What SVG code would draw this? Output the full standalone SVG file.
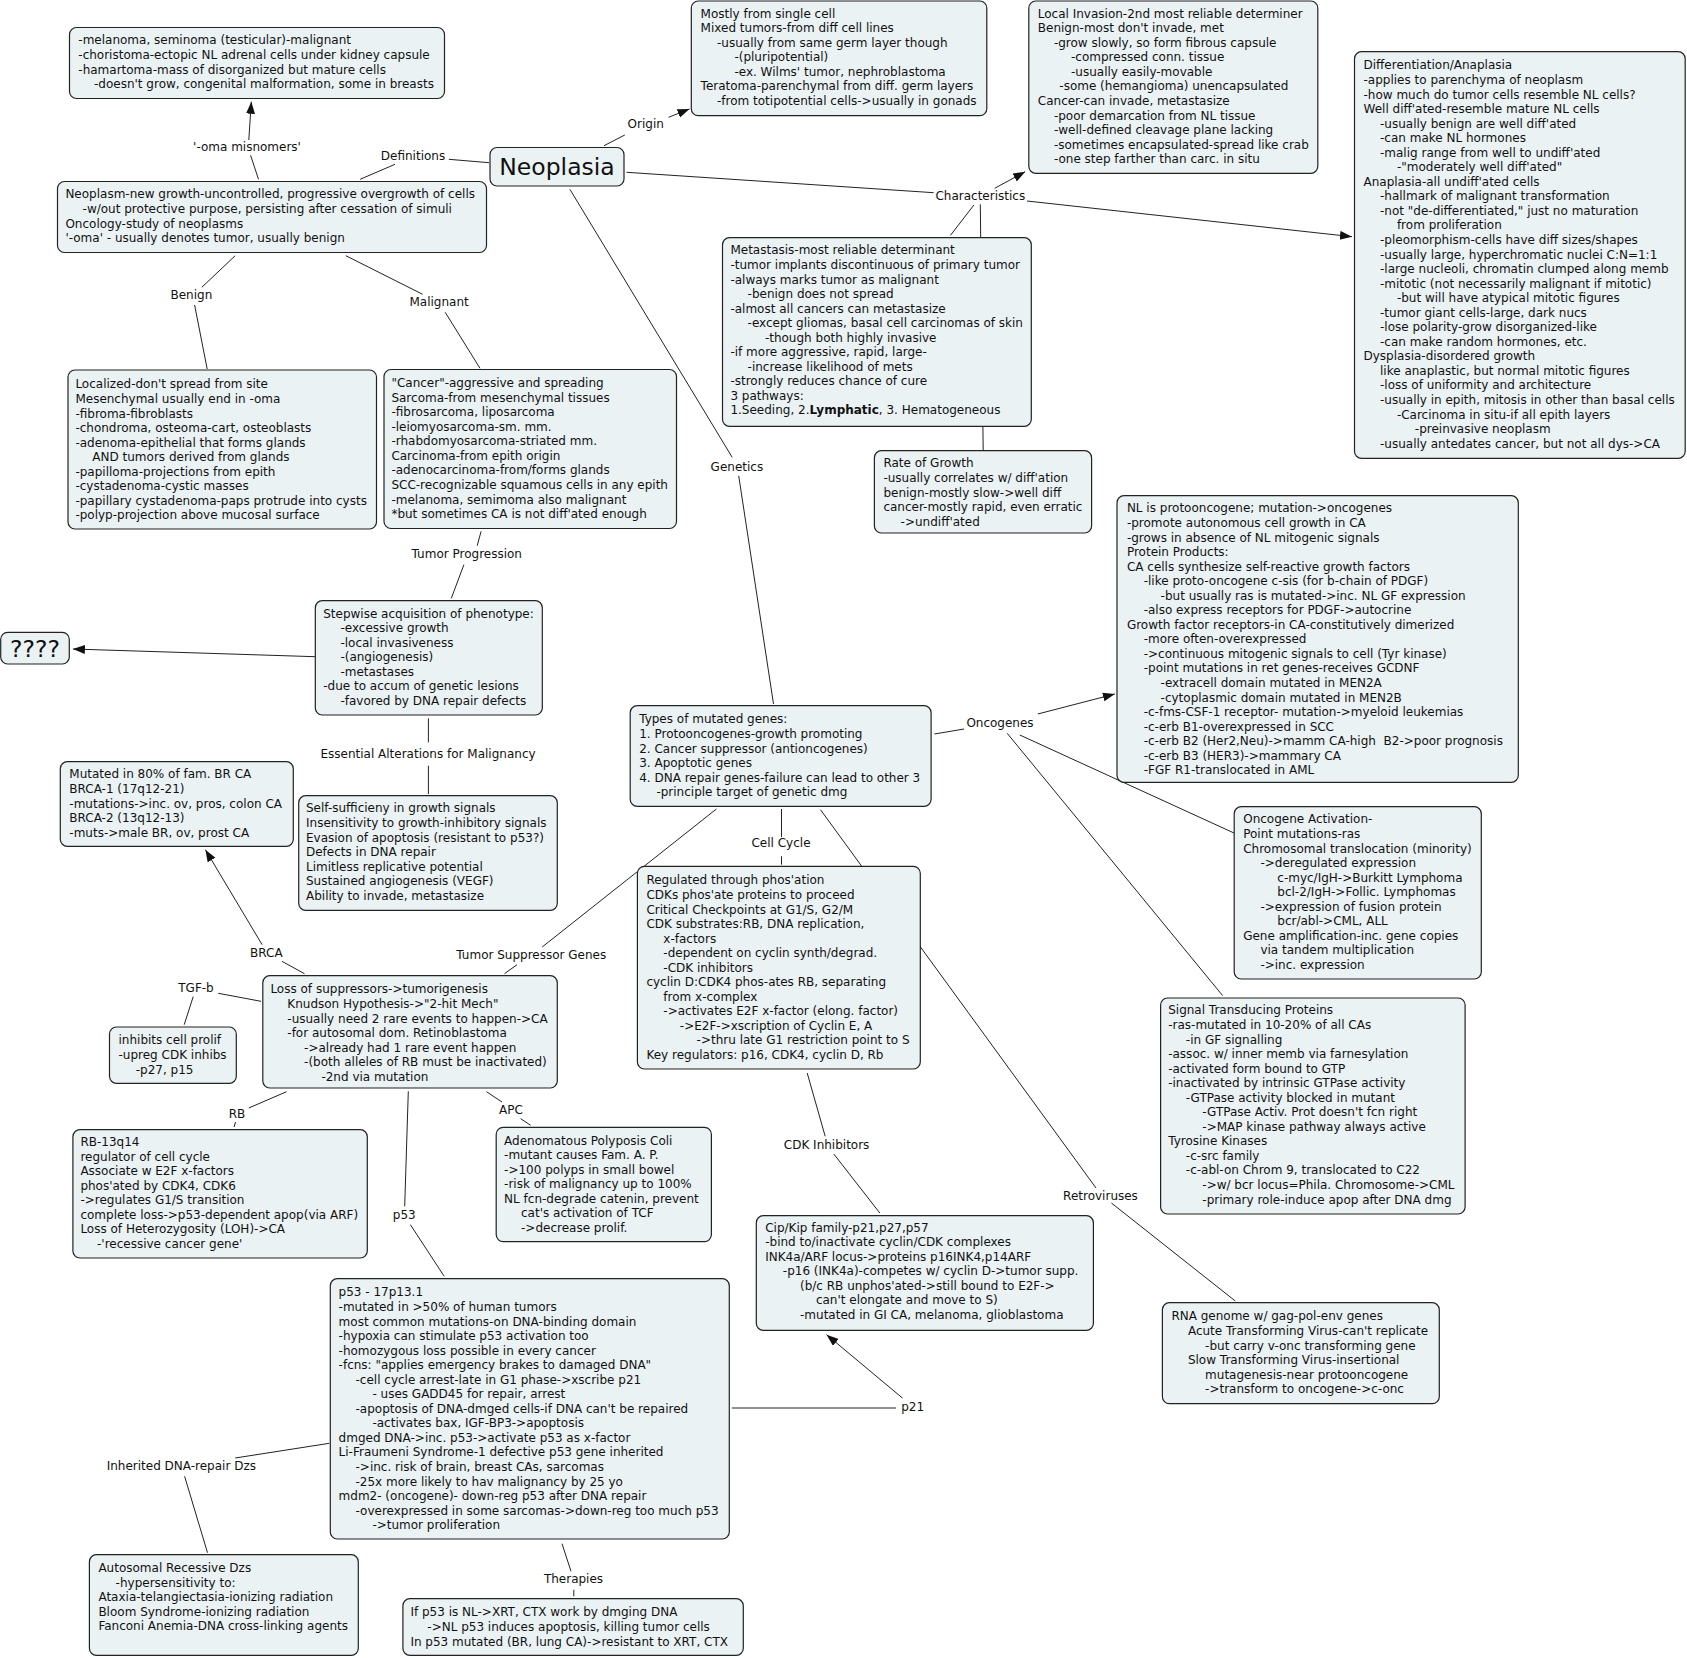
<svg xmlns="http://www.w3.org/2000/svg" width="1687" height="1658" viewBox="0 0 1687 1658">
<style>
rect.b{fill:#EBF2F4;stroke:#222;stroke-width:1.2}
text{font-family:"DejaVu Sans",Verdana,sans-serif;font-size:12px;fill:#111}
text.l{text-anchor:middle}
text.big{font-size:23.5px;text-anchor:middle}
#connectors line{stroke:#222;stroke-width:1}
</style>
<defs>
<marker id="ah" markerUnits="userSpaceOnUse" markerWidth="13" markerHeight="10" refX="12" refY="4.5" orient="auto">
<path d="M0,0 L12,4.5 L0,9 z" fill="#111"/>
</marker>
</defs>
<rect width="1687" height="1658" fill="#fff"/>
<g id="connectors">
<line x1="258.5" y1="179.3" x2="250.6" y2="155.3"/>
<line x1="248.8" y1="140" x2="251.3" y2="101.7" marker-end="url(#ah)"/>
<line x1="489" y1="162.7" x2="448.8" y2="159.3"/>
<line x1="395" y1="164.3" x2="360.1" y2="179.3"/>
<line x1="235.2" y1="255.7" x2="201.8" y2="287.3"/>
<line x1="194.6" y1="305" x2="207.2" y2="369"/>
<line x1="345.8" y1="255.7" x2="422.6" y2="294.3"/>
<line x1="445.2" y1="312.3" x2="480" y2="368.3"/>
<line x1="604" y1="145.7" x2="624.8" y2="135"/>
<line x1="668.6" y1="117.3" x2="689.5" y2="109" marker-end="url(#ah)"/>
<line x1="626.6" y1="172.3" x2="933.6" y2="192.7"/>
<line x1="994.7" y1="188.3" x2="1025.2" y2="171.7" marker-end="url(#ah)"/>
<line x1="1027" y1="201" x2="1352" y2="236.7" marker-end="url(#ah)"/>
<line x1="973.9" y1="205" x2="950.5" y2="235.3"/>
<line x1="980.3" y1="204.3" x2="983.2" y2="450.7"/>
<line x1="569.9" y1="189.3" x2="732.2" y2="457.3"/>
<line x1="738.7" y1="475.7" x2="773.5" y2="704"/>
<line x1="481.1" y1="531.3" x2="477.2" y2="545.7"/>
<line x1="463.9" y1="564.7" x2="451.3" y2="598.3"/>
<line x1="315.3" y1="656.7" x2="72.9" y2="649" marker-end="url(#ah)"/>
<line x1="428.4" y1="718.3" x2="428.4" y2="742.3"/>
<line x1="428.4" y1="765.7" x2="428.4" y2="794"/>
<line x1="934.4" y1="734" x2="964.1" y2="729"/>
<line x1="1037.8" y1="714" x2="1114.9" y2="694" marker-end="url(#ah)"/>
<line x1="1019.8" y1="735" x2="1234" y2="833"/>
<line x1="1007.2" y1="733.3" x2="1222.7" y2="995.7"/>
<line x1="716.4" y1="809" x2="542.2" y2="947"/>
<line x1="517" y1="964.7" x2="504.5" y2="973.7"/>
<line x1="781.5" y1="809" x2="781.5" y2="837"/>
<line x1="781.5" y1="856.3" x2="781.5" y2="864.7"/>
<line x1="820.5" y1="809.7" x2="1096" y2="1188"/>
<line x1="1111.4" y1="1203" x2="1235.3" y2="1301"/>
<line x1="807.2" y1="1073" x2="825.2" y2="1136.3"/>
<line x1="833.8" y1="1154" x2="879.8" y2="1213"/>
<line x1="304.5" y1="973.7" x2="281.9" y2="961.3"/>
<line x1="262.1" y1="944.7" x2="205.4" y2="849.7" marker-end="url(#ah)"/>
<line x1="261" y1="1001.3" x2="218.3" y2="993.3"/>
<line x1="193.2" y1="996.7" x2="184.2" y2="1024.7"/>
<line x1="286.5" y1="1091.7" x2="248.8" y2="1108"/>
<line x1="235.5" y1="1122" x2="234.1" y2="1127"/>
<line x1="486.5" y1="1091.7" x2="502" y2="1102"/>
<line x1="520.6" y1="1118.7" x2="530.7" y2="1125.3"/>
<line x1="408.3" y1="1091.3" x2="404.7" y2="1206.3"/>
<line x1="410.4" y1="1224.7" x2="444.2" y2="1276.3"/>
<line x1="329.3" y1="1443.3" x2="235.2" y2="1458"/>
<line x1="184.6" y1="1476.3" x2="207.5" y2="1552.7"/>
<line x1="562" y1="1543.7" x2="571" y2="1571.3"/>
<line x1="573.8" y1="1589.7" x2="573.8" y2="1596.3"/>
<line x1="731.8" y1="1408" x2="896" y2="1408"/>
<line x1="902.4" y1="1398" x2="826.6" y2="1334.7" marker-end="url(#ah)"/>
</g>
<g id="labels">
<text class="l" x="247" y="151.1">'-oma misnomers'</text>
<text class="l" x="413" y="160.1">Definitions</text>
<text class="l" x="191.4" y="299.1">Benign</text>
<text class="l" x="439.1" y="306.4">Malignant</text>
<text class="l" x="645.7" y="128.1">Origin</text>
<text class="l" x="980.3" y="200.4">Characteristics</text>
<text class="l" x="736.9" y="470.7">Genetics</text>
<text class="l" x="466.8" y="557.7">Tumor Progression</text>
<text class="l" x="428" y="758.4">Essential Alterations for Malignancy</text>
<text class="l" x="1000" y="726.7">Oncogenes</text>
<text class="l" x="781" y="847.1">Cell Cycle</text>
<text class="l" x="531.3" y="958.9">Tumor Suppressor Genes</text>
<text class="l" x="266.4" y="956.7">BRCA</text>
<text class="l" x="196" y="992.4">TGF-b</text>
<text class="l" x="237" y="1118.4">RB</text>
<text class="l" x="511" y="1114.1">APC</text>
<text class="l" x="404.3" y="1219.1">p53</text>
<text class="l" x="826.6" y="1149.1">CDK Inhibitors</text>
<text class="l" x="1100.5" y="1200.4">Retroviruses</text>
<text class="l" x="912.6" y="1411.1">p21</text>
<text class="l" x="181.3" y="1470.1">Inherited DNA-repair Dzs</text>
<text class="l" x="573.5" y="1583.4">Therapies</text>
</g>
<g id="n-misnomers"><rect class="b" x="69.5" y="27.5" width="375" height="71" rx="7"/>
<text><tspan x="78.3" y="44.4">-melanoma, seminoma (testicular)-malignant</tspan><tspan x="78.3" dy="14.55">-choristoma-ectopic NL adrenal cells under kidney capsule</tspan><tspan x="78.3" dy="14.55">-hamartoma-mass of disorganized but mature cells</tspan><tspan x="94" dy="14.55">-doesn't grow, congenital malformation, some in breasts</tspan></text></g>
<g id="n-neoplasia"><rect class="b" x="490" y="147.5" width="134" height="38.5" rx="7"/>
<text class="big" x="557" y="174.5">Neoplasia</text></g>
<g id="n-definitions"><rect class="b" x="57.5" y="181.5" width="429" height="71" rx="7"/>
<text><tspan x="65.4" y="198.4">Neoplasm-new growth-uncontrolled, progressive overgrowth of cells</tspan><tspan x="82.6" dy="14.55">-w/out protective purpose, persisting after cessation of simuli</tspan><tspan x="65.4" dy="14.55">Oncology-study of neoplasms</tspan><tspan x="65.4" dy="14.55">'-oma' - usually denotes tumor, usually benign</tspan></text></g>
<g id="n-benign"><rect class="b" x="68" y="370" width="308.5" height="159" rx="7"/>
<text><tspan x="75.4" y="388.4">Localized-don't spread from site</tspan><tspan x="75.4" dy="14.55">Mesenchymal usually end in -oma</tspan><tspan x="75.4" dy="14.55">-fibroma-fibroblasts</tspan><tspan x="75.4" dy="14.55">-chondroma, osteoma-cart, osteoblasts</tspan><tspan x="75.4" dy="14.55">-adenoma-epithelial that forms glands</tspan><tspan x="92.3" dy="14.55">AND tumors derived from glands</tspan><tspan x="75.4" dy="14.55">-papilloma-projections from epith</tspan><tspan x="75.4" dy="14.55">-cystadenoma-cystic masses</tspan><tspan x="75.4" dy="14.55">-papillary cystadenoma-paps protrude into cysts</tspan><tspan x="75.4" dy="14.55">-polyp-projection above mucosal surface</tspan></text></g>
<g id="n-malignant"><rect class="b" x="384" y="369.5" width="292.5" height="159" rx="7"/>
<text><tspan x="391.4" y="387.1">"Cancer"-aggressive and spreading</tspan><tspan x="391.4" dy="14.55">Sarcoma-from mesenchymal tissues</tspan><tspan x="391.4" dy="14.55">-fibrosarcoma, liposarcoma</tspan><tspan x="391.4" dy="14.55">-leiomyosarcoma-sm. mm.</tspan><tspan x="391.4" dy="14.55">-rhabdomyosarcoma-striated mm.</tspan><tspan x="391.4" dy="14.55">Carcinoma-from epith origin</tspan><tspan x="391.4" dy="14.55">-adenocarcinoma-from/forms glands</tspan><tspan x="391.4" dy="14.55">SCC-recognizable squamous cells in any epith</tspan><tspan x="391.4" dy="14.55">-melanoma, semimoma also malignant</tspan><tspan x="391.4" dy="14.55">*but sometimes CA is not diff'ated enough</tspan></text></g>
<g id="n-origin"><rect class="b" x="691.3" y="1" width="295.5" height="114.7" rx="7"/>
<text><tspan x="700.6" y="17.7">Mostly from single cell</tspan><tspan x="700.6" dy="14.55">Mixed tumors-from diff cell lines</tspan><tspan x="717" dy="14.55">-usually from same germ layer though</tspan><tspan x="734.4" dy="14.55">-(pluripotential)</tspan><tspan x="734.4" dy="14.55">-ex. Wilms' tumor, nephroblastoma</tspan><tspan x="700.6" dy="14.55">Teratoma-parenchymal from diff. germ layers</tspan><tspan x="717" dy="14.55">-from totipotential cells-&gt;usually in gonads</tspan></text></g>
<g id="n-invasion"><rect class="b" x="1028.8" y="1" width="289" height="172.3" rx="7"/>
<text><tspan x="1037.8" y="17.7">Local Invasion-2nd most reliable determiner</tspan><tspan x="1037.8" dy="14.55">Benign-most don't invade, met</tspan><tspan x="1053.9" dy="14.55">-grow slowly, so form fibrous capsule</tspan><tspan x="1071" dy="14.55">-compressed conn. tissue</tspan><tspan x="1071" dy="14.55">-usually easily-movable</tspan><tspan x="1059.3" dy="14.55">-some (hemangioma) unencapsulated</tspan><tspan x="1037.8" dy="14.55">Cancer-can invade, metastasize</tspan><tspan x="1053.9" dy="14.55">-poor demarcation from NL tissue</tspan><tspan x="1053.9" dy="14.55">-well-defined cleavage plane lacking</tspan><tspan x="1053.9" dy="14.55">-sometimes encapsulated-spread like crab</tspan><tspan x="1053.9" dy="14.55">-one step farther than carc. in situ</tspan></text></g>
<g id="n-differentiation"><rect class="b" x="1354.5" y="51.7" width="330.7" height="406.6" rx="7"/>
<text><tspan x="1363.5" y="69.4">Differentiation/Anaplasia</tspan><tspan x="1363.5" dy="14.55">-applies to parenchyma of neoplasm</tspan><tspan x="1363.5" dy="14.55">-how much do tumor cells resemble NL cells?</tspan><tspan x="1363.5" dy="14.55">Well diff'ated-resemble mature NL cells</tspan><tspan x="1380" dy="14.55">-usually benign are well diff'ated</tspan><tspan x="1380" dy="14.55">-can make NL hormones</tspan><tspan x="1380" dy="14.55">-malig range from well to undiff'ated</tspan><tspan x="1396.9" dy="14.55">-"moderately well diff'ated"</tspan><tspan x="1363.5" dy="14.55">Anaplasia-all undiff'ated cells</tspan><tspan x="1380" dy="14.55">-hallmark of malignant transformation</tspan><tspan x="1380" dy="14.55">-not "de-differentiated," just no maturation</tspan><tspan x="1396.9" dy="14.55">from proliferation</tspan><tspan x="1380" dy="14.55">-pleomorphism-cells have diff sizes/shapes</tspan><tspan x="1380" dy="14.55">-usually large, hyperchromatic nuclei C:N=1:1</tspan><tspan x="1380" dy="14.55">-large nucleoli, chromatin clumped along memb</tspan><tspan x="1380" dy="14.55">-mitotic (not necessarily malignant if mitotic)</tspan><tspan x="1396.9" dy="14.55">-but will have atypical mitotic figures</tspan><tspan x="1380" dy="14.55">-tumor giant cells-large, dark nucs</tspan><tspan x="1380" dy="14.55">-lose polarity-grow disorganized-like</tspan><tspan x="1380" dy="14.55">-can make random hormones, etc.</tspan><tspan x="1363.5" dy="14.55">Dysplasia-disordered growth</tspan><tspan x="1380" dy="14.55">like anaplastic, but normal mitotic figures</tspan><tspan x="1380" dy="14.55">-loss of uniformity and architecture</tspan><tspan x="1380" dy="14.55">-usually in epith, mitosis in other than basal cells</tspan><tspan x="1396.9" dy="14.55">-Carcinoma in situ-if all epith layers</tspan><tspan x="1414.8" dy="14.55">-preinvasive neoplasm</tspan><tspan x="1380" dy="14.55">-usually antedates cancer, but not all dys-&gt;CA</tspan></text></g>
<g id="n-metastasis"><rect class="b" x="722.5" y="237.7" width="308.8" height="188.6" rx="7"/>
<text><tspan x="730.4" y="254.4">Metastasis-most reliable determinant</tspan><tspan x="730.4" dy="14.55">-tumor implants discontinuous of primary tumor</tspan><tspan x="730.4" dy="14.55">-always marks tumor as malignant</tspan><tspan x="747.6" dy="14.55">-benign does not spread</tspan><tspan x="730.4" dy="14.55">-almost all cancers can metastasize</tspan><tspan x="747.6" dy="14.55">-except gliomas, basal cell carcinomas of skin</tspan><tspan x="764.9" dy="14.55">-though both highly invasive</tspan><tspan x="730.4" dy="14.55">-if more aggressive, rapid, large-</tspan><tspan x="747.6" dy="14.55">-increase likelihood of mets</tspan><tspan x="730.4" dy="14.55">-strongly reduces chance of cure</tspan><tspan x="730.4" dy="14.55">3 pathways:</tspan><tspan x="730.4" dy="14.55">1.Seeding, 2.<tspan font-weight="bold">Lymphatic</tspan>, 3. Hematogeneous</tspan></text></g>
<g id="n-rate"><rect class="b" x="874.4" y="450.7" width="217.2" height="82.3" rx="7"/>
<text><tspan x="883.4" y="467.4">Rate of Growth</tspan><tspan x="883.4" dy="14.55">-usually correlates w/ diff'ation</tspan><tspan x="883.4" dy="14.55">benign-mostly slow-&gt;well diff</tspan><tspan x="883.4" dy="14.55">cancer-mostly rapid, even erratic</tspan><tspan x="900.6" dy="14.55">-&gt;undiff'ated</tspan></text></g>
<g id="n-unknown"><rect class="b" x="0.7" y="632.3" width="68.6" height="31.7" rx="7"/>
<text class="big" x="35" y="657">????</text></g>
<g id="n-stepwise"><rect class="b" x="315.3" y="600.7" width="227" height="114.3" rx="7"/>
<text><tspan x="323.2" y="617.7">Stepwise acquisition of phenotype:</tspan><tspan x="340.4" dy="14.55">-excessive growth</tspan><tspan x="340.4" dy="14.55">-local invasiveness</tspan><tspan x="340.4" dy="14.55">-(angiogenesis)</tspan><tspan x="340.4" dy="14.55">-metastases</tspan><tspan x="323.2" dy="14.55">-due to accum of genetic lesions</tspan><tspan x="340.4" dy="14.55">-favored by DNA repair defects</tspan></text></g>
<g id="n-essential"><rect class="b" x="298.7" y="795.7" width="258.6" height="114.6" rx="7"/>
<text><tspan x="306" y="812.4">Self-sufficieny in growth signals</tspan><tspan x="306" dy="14.55">Insensitivity to growth-inhibitory signals</tspan><tspan x="306" dy="14.55">Evasion of apoptosis (resistant to p53?)</tspan><tspan x="306" dy="14.55">Defects in DNA repair</tspan><tspan x="306" dy="14.55">Limitless replicative potential</tspan><tspan x="306" dy="14.55">Sustained angiogenesis (VEGF)</tspan><tspan x="306" dy="14.55">Ability to invade, metastasize</tspan></text></g>
<g id="n-brca"><rect class="b" x="60.3" y="761.7" width="233" height="84.6" rx="7"/>
<text><tspan x="69.3" y="778.4">Mutated in 80% of fam. BR CA</tspan><tspan x="69.3" dy="14.55">BRCA-1 (17q12-21)</tspan><tspan x="69.3" dy="14.55">-mutations-&gt;inc. ov, pros, colon CA</tspan><tspan x="69.3" dy="14.55">BRCA-2 (13q12-13)</tspan><tspan x="69.3" dy="14.55">-muts-&gt;male BR, ov, prost CA</tspan></text></g>
<g id="n-types"><rect class="b" x="630.2" y="705.7" width="300.9" height="100.6" rx="7"/>
<text><tspan x="639.2" y="723.4">Types of mutated genes:</tspan><tspan x="639.2" dy="14.55">1. Protooncogenes-growth promoting</tspan><tspan x="639.2" dy="14.55">2. Cancer suppressor (antioncogenes)</tspan><tspan x="639.2" dy="14.55">3. Apoptotic genes</tspan><tspan x="639.2" dy="14.55">4. DNA repair genes-failure can lead to other 3</tspan><tspan x="656.4" dy="14.55">-principle target of genetic dmg</tspan></text></g>
<g id="n-oncogenes"><rect class="b" x="1117" y="495.7" width="401.3" height="286.6" rx="7"/>
<text><tspan x="1126.9" y="512.4">NL is protooncogene; mutation-&gt;oncogenes</tspan><tspan x="1126.9" dy="14.55">-promote autonomous cell growth in CA</tspan><tspan x="1126.9" dy="14.55">-grows in absence of NL mitogenic signals</tspan><tspan x="1126.9" dy="14.55">Protein Products:</tspan><tspan x="1126.9" dy="14.55">CA cells synthesize self-reactive growth factors</tspan><tspan x="1143.7" dy="14.55">-like proto-oncogene c-sis (for b-chain of PDGF)</tspan><tspan x="1160.6" dy="14.55">-but usually ras is mutated-&gt;inc. NL GF expression</tspan><tspan x="1143.7" dy="14.55">-also express receptors for PDGF-&gt;autocrine</tspan><tspan x="1126.9" dy="14.55">Growth factor receptors-in CA-constitutively dimerized</tspan><tspan x="1143.7" dy="14.55">-more often-overexpressed</tspan><tspan x="1143.7" dy="14.55">-&gt;continuous mitogenic signals to cell (Tyr kinase)</tspan><tspan x="1143.7" dy="14.55">-point mutations in ret genes-receives GCDNF</tspan><tspan x="1160.6" dy="14.55">-extracell domain mutated in MEN2A</tspan><tspan x="1160.6" dy="14.55">-cytoplasmic domain mutated in MEN2B</tspan><tspan x="1143.7" dy="14.55">-c-fms-CSF-1 receptor- mutation-&gt;myeloid leukemias</tspan><tspan x="1143.7" dy="14.55">-c-erb B1-overexpressed in SCC</tspan><tspan x="1143.7" dy="14.55" xml:space="preserve">-c-erb B2 (Her2,Neu)-&gt;mamm CA-high  B2-&gt;poor prognosis</tspan><tspan x="1143.7" dy="14.55">-c-erb B3 (HER3)-&gt;mammary CA</tspan><tspan x="1143.7" dy="14.55">-FGF R1-translocated in AML</tspan></text></g>
<g id="n-activation"><rect class="b" x="1234.2" y="806.7" width="247.1" height="172.3" rx="7"/>
<text><tspan x="1243.2" y="823.4">Oncogene Activation-</tspan><tspan x="1243.2" dy="14.55">Point mutations-ras</tspan><tspan x="1243.2" dy="14.55">Chromosomal translocation (minority)</tspan><tspan x="1260.4" dy="14.55">-&gt;deregulated expression</tspan><tspan x="1277.3" dy="14.55">c-myc/IgH-&gt;Burkitt Lymphoma</tspan><tspan x="1277.3" dy="14.55">bcl-2/IgH-&gt;Follic. Lymphomas</tspan><tspan x="1260.4" dy="14.55">-&gt;expression of fusion protein</tspan><tspan x="1277.3" dy="14.55">bcr/abl-&gt;CML, ALL</tspan><tspan x="1243.2" dy="14.55">Gene amplification-inc. gene copies</tspan><tspan x="1260.4" dy="14.55">via tandem multiplication</tspan><tspan x="1260.4" dy="14.55">-&gt;inc. expression</tspan></text></g>
<g id="n-signal"><rect class="b" x="1160.6" y="998" width="304.5" height="216" rx="7"/>
<text><tspan x="1168.2" y="1014.4">Signal Transducing Proteins</tspan><tspan x="1168.2" dy="14.55">-ras-mutated in 10-20% of all CAs</tspan><tspan x="1185.8" dy="14.55">-in GF signalling</tspan><tspan x="1168.2" dy="14.55">-assoc. w/ inner memb via farnesylation</tspan><tspan x="1168.2" dy="14.55">-activated form bound to GTP</tspan><tspan x="1168.2" dy="14.55">-inactivated by intrinsic GTPase activity</tspan><tspan x="1185.8" dy="14.55">-GTPase activity blocked in mutant</tspan><tspan x="1202.3" dy="14.55">-GTPase Activ. Prot doesn't fcn right</tspan><tspan x="1202.3" dy="14.55">-&gt;MAP kinase pathway always active</tspan><tspan x="1168.2" dy="14.55">Tyrosine Kinases</tspan><tspan x="1185.8" dy="14.55">-c-src family</tspan><tspan x="1185.8" dy="14.55">-c-abl-on Chrom 9, translocated to C22</tspan><tspan x="1202.3" dy="14.55">-&gt;w/ bcr locus=Phila. Chromosome-&gt;CML</tspan><tspan x="1202.3" dy="14.55">-primary role-induce apop after DNA dmg</tspan></text></g>
<g id="n-retro"><rect class="b" x="1162.4" y="1302.7" width="276.9" height="101" rx="7"/>
<text><tspan x="1171.4" y="1320.4">RNA genome w/ gag-pol-env genes</tspan><tspan x="1187.9" dy="14.55">Acute Transforming Virus-can't replicate</tspan><tspan x="1205.1" dy="14.55">-but carry v-onc transforming gene</tspan><tspan x="1187.9" dy="14.55">Slow Transforming Virus-insertional</tspan><tspan x="1205.1" dy="14.55">mutagenesis-near protooncogene</tspan><tspan x="1205.1" dy="14.55">-&gt;transform to oncogene-&gt;c-onc</tspan></text></g>
<g id="n-cellcycle"><rect class="b" x="637.4" y="866.3" width="282.9" height="202.7" rx="7"/>
<text><tspan x="646.4" y="884.4">Regulated through phos'ation</tspan><tspan x="646.4" dy="14.55">CDKs phos'ate proteins to proceed</tspan><tspan x="646.4" dy="14.55">Critical Checkpoints at G1/S, G2/M</tspan><tspan x="646.4" dy="14.55">CDK substrates:RB, DNA replication,</tspan><tspan x="663.3" dy="14.55">x-factors</tspan><tspan x="663.3" dy="14.55">-dependent on cyclin synth/degrad.</tspan><tspan x="663.3" dy="14.55">-CDK inhibitors</tspan><tspan x="646.4" dy="14.55">cyclin D:CDK4 phos-ates RB, separating</tspan><tspan x="663.3" dy="14.55">from x-complex</tspan><tspan x="663.3" dy="14.55">-&gt;activates E2F x-factor (elong. factor)</tspan><tspan x="679.8" dy="14.55">-&gt;E2F-&gt;xscription of Cyclin E, A</tspan><tspan x="696.6" dy="14.55">-&gt;thru late G1 restriction point to S</tspan><tspan x="646.4" dy="14.55">Key regulators: p16, CDK4, cyclin D, Rb</tspan></text></g>
<g id="n-suppressors"><rect class="b" x="262.8" y="975.7" width="294.5" height="112.3" rx="7"/>
<text><tspan x="270.4" y="993.4">Loss of suppressors-&gt;tumorigenesis</tspan><tspan x="287.3" dy="14.55">Knudson Hypothesis-&gt;"2-hit Mech"</tspan><tspan x="287.3" dy="14.55">-usually need 2 rare events to happen-&gt;CA</tspan><tspan x="287.3" dy="14.55">-for autosomal dom. Retinoblastoma</tspan><tspan x="304.1" dy="14.55">-&gt;already had 1 rare event happen</tspan><tspan x="304.1" dy="14.55">-(both alleles of RB must be inactivated)</tspan><tspan x="321.4" dy="14.55">-2nd via mutation</tspan></text></g>
<g id="n-tgfb"><rect class="b" x="109.5" y="1027" width="126.8" height="56.3" rx="7"/>
<text><tspan x="118.5" y="1044.4">inhibits cell prolif</tspan><tspan x="118.5" dy="14.55">-upreg CDK inhibs</tspan><tspan x="135.7" dy="14.55">-p27, p15</tspan></text></g>
<g id="n-rb"><rect class="b" x="72.9" y="1129.7" width="294.4" height="128.3" rx="7"/>
<text><tspan x="80.4" y="1146.1">RB-13q14</tspan><tspan x="80.4" dy="14.55">regulator of cell cycle</tspan><tspan x="80.4" dy="14.55">Associate w E2F x-factors</tspan><tspan x="80.4" dy="14.55">phos'ated by CDK4, CDK6</tspan><tspan x="80.4" dy="14.55">-&gt;regulates G1/S transition</tspan><tspan x="80.4" dy="14.55">complete loss-&gt;p53-dependent apop(via ARF)</tspan><tspan x="80.4" dy="14.55">Loss of Heterozygosity (LOH)-&gt;CA</tspan><tspan x="97" dy="14.55">-'recessive cancer gene'</tspan></text></g>
<g id="n-apc"><rect class="b" x="496.2" y="1127.3" width="215.2" height="114.3" rx="7"/>
<text><tspan x="504.1" y="1144.7">Adenomatous Polyposis Coli</tspan><tspan x="504.1" dy="14.55">-mutant causes Fam. A. P.</tspan><tspan x="504.1" dy="14.55">-&gt;100 polyps in small bowel</tspan><tspan x="504.1" dy="14.55">-risk of malignancy up to 100%</tspan><tspan x="504.1" dy="14.55">NL fcn-degrade catenin, prevent</tspan><tspan x="521" dy="14.55">cat's activation of TCF</tspan><tspan x="521" dy="14.55">-&gt;decrease prolif.</tspan></text></g>
<g id="n-cdkinhib"><rect class="b" x="756.3" y="1215.7" width="337.1" height="114.6" rx="7"/>
<text><tspan x="765.2" y="1231.7">Cip/Kip family-p21,p27,p57</tspan><tspan x="765.2" dy="14.55">-bind to/inactivate cyclin/CDK complexes</tspan><tspan x="765.2" dy="14.55">INK4a/ARF locus-&gt;proteins p16INK4,p14ARF</tspan><tspan x="782.8" dy="14.55">-p16 (INK4a)-competes w/ cyclin D-&gt;tumor supp.</tspan><tspan x="800" dy="14.55">(b/c RB unphos'ated-&gt;still bound to E2F-&gt;</tspan><tspan x="815.9" dy="14.55">can't elongate and move to S)</tspan><tspan x="800" dy="14.55">-mutated in GI CA, melanoma, glioblastoma</tspan></text></g>
<g id="n-p53"><rect class="b" x="330.3" y="1278.7" width="399" height="260.3" rx="7"/>
<text><tspan x="338.6" y="1296.4">p53 - 17p13.1</tspan><tspan x="338.6" dy="14.55">-mutated in &gt;50% of human tumors</tspan><tspan x="338.6" dy="14.55">most common mutations-on DNA-binding domain</tspan><tspan x="338.6" dy="14.55">-hypoxia can stimulate p53 activation too</tspan><tspan x="338.6" dy="14.55">-homozygous loss possible in every cancer</tspan><tspan x="338.6" dy="14.55">-fcns: "applies emergency brakes to damaged DNA"</tspan><tspan x="355.5" dy="14.55">-cell cycle arrest-late in G1 phase-&gt;xscribe p21</tspan><tspan x="372.4" dy="14.55">- uses GADD45 for repair, arrest</tspan><tspan x="355.5" dy="14.55">-apoptosis of DNA-dmged cells-if DNA can't be repaired</tspan><tspan x="372.4" dy="14.55">-activates bax, IGF-BP3-&gt;apoptosis</tspan><tspan x="338.6" dy="14.55">dmged DNA-&gt;inc. p53-&gt;activate p53 as x-factor</tspan><tspan x="338.6" dy="14.55">Li-Fraumeni Syndrome-1 defective p53 gene inherited</tspan><tspan x="355.5" dy="14.55">-&gt;inc. risk of brain, breast CAs, sarcomas</tspan><tspan x="355.5" dy="14.55">-25x more likely to hav malignancy by 25 yo</tspan><tspan x="338.6" dy="14.55">mdm2- (oncogene)- down-reg p53 after DNA repair</tspan><tspan x="355.5" dy="14.55">-overexpressed in some sarcomas-&gt;down-reg too much p53</tspan><tspan x="372.4" dy="14.55">-&gt;tumor proliferation</tspan></text></g>
<g id="n-autosomal"><rect class="b" x="89.4" y="1554.7" width="268.9" height="100.6" rx="7"/>
<text><tspan x="98.4" y="1572.1">Autosomal Recessive Dzs</tspan><tspan x="115.6" dy="14.55">-hypersensitivity to:</tspan><tspan x="98.4" dy="14.55">Ataxia-telangiectasia-ionizing radiation</tspan><tspan x="98.4" dy="14.55">Bloom Syndrome-ionizing radiation</tspan><tspan x="98.4" dy="14.55">Fanconi Anemia-DNA cross-linking agents</tspan></text></g>
<g id="n-therapies"><rect class="b" x="402.9" y="1598.7" width="340.4" height="56.6" rx="7"/>
<text><tspan x="410.4" y="1616.4">If p53 is NL-&gt;XRT, CTX work by dmging DNA</tspan><tspan x="427.3" dy="14.55">-&gt;NL p53 induces apoptosis, killing tumor cells</tspan><tspan x="410.4" dy="14.55">In p53 mutated (BR, lung CA)-&gt;resistant to XRT, CTX</tspan></text></g>
</svg>
